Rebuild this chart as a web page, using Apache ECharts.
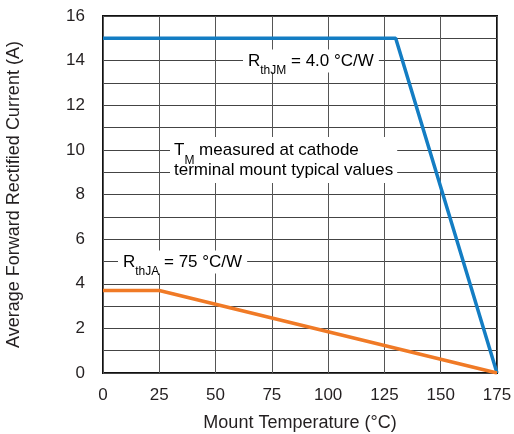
<!DOCTYPE html>
<html style="height: 100%">
<head>
  <meta charset="utf-8">
  <script type="text/javascript" src="https://cdn.jsdelivr.net/npm/echarts@6/dist/echarts.min.js"></script>
</head>
<body style="height: 100%; margin: 0; background: #fff">
  <div id="container" style="width: 514px; height: 434px"></div>
  <script type="text/javascript">
    // data
    var rthJM = [[0, 15], [130, 15], [175, 0]];
    var rthJA = [[0, 3.7], [25, 3.7], [175, 0]];

    var font = 'Liberation Sans, Arial, sans-serif';
    var myChart = echarts.init(document.getElementById('container'));

    var sub = {
      n: { fontSize: 17, fontFamily: font, color: '#231f20' },
      s: { fontSize: 12, fontFamily: font, color: '#231f20', verticalAlign: 'bottom', padding: [0, 0, -7, 0] }
    };

    var option = {
      animation: false,
      grid: {
        left: 103, right: 17, top: 16, bottom: 61,
        outerBoundsMode: 'none',
        show: true, borderColor: '#111', borderWidth: 2
      },
      xAxis: {
        type: 'value', min: 0, max: 175, interval: 25,
        name: 'Mount Temperature (°C)', nameLocation: 'middle', nameGap: 41,
        nameTextStyle: { fontSize: 18, fontFamily: font, color: '#231f20' },
        axisLine: { show: false },
        axisTick: { show: false },
        axisLabel: { fontSize: 17, fontFamily: font, color: '#231f20', margin: 14 },
        splitLine: { lineStyle: { color: '#555', width: 1 } }
      },
      yAxis: {
        type: 'value', min: 0, max: 16, interval: 1,
        name: 'Average Forward Rectified Current (A)', nameLocation: 'middle', nameGap: 80,
        nameTextStyle: { fontSize: 18, fontFamily: font, color: '#231f20' },
        axisLine: { show: false },
        axisTick: { show: false },
        axisLabel: {
          fontSize: 17, fontFamily: font, color: '#231f20', margin: 18,
          formatter: function (v) { return v % 2 === 0 ? String(v) : ''; }
        },
        splitLine: { lineStyle: { color: '#444', width: 1 } }
      },
      series: [
        {
          type: 'line', data: rthJM, symbol: 'none',
          lineStyle: { color: '#137dc3', width: 3.5 }
        },
        {
          type: 'line', data: rthJA, symbol: 'none',
          lineStyle: { color: '#f07a26', width: 3.5 }
        }
      ],
      graphic: [
        {
          type: 'text', x: 243, y: 61, z: 100,
          style: {
            text: '{n|R}{s|thJM}{n| = 4.0 °C/W}', rich: sub, verticalAlign: 'middle',
            backgroundColor: '#fff', padding: [3, 5, 3, 5]
          }
        },
        {
          type: 'text', x: 170, y: 160, z: 100,
          style: {
            text: '{n|T}{s|M}{n| measured at cathode}\n{n|terminal mount typical values}', rich: sub,
            verticalAlign: 'middle', backgroundColor: '#fff', padding: [3, 4, 3, 4], lineHeight: 20
          }
        },
        {
          type: 'text', x: 118, y: 262, z: 100,
          style: {
            text: '{n|R}{s|thJA}{n| = 75 °C/W}', rich: sub, verticalAlign: 'middle',
            backgroundColor: '#fff', padding: [3, 5, 3, 5]
          }
        }
      ]
    };

    myChart.setOption(option);
  </script>
</body>
</html>
